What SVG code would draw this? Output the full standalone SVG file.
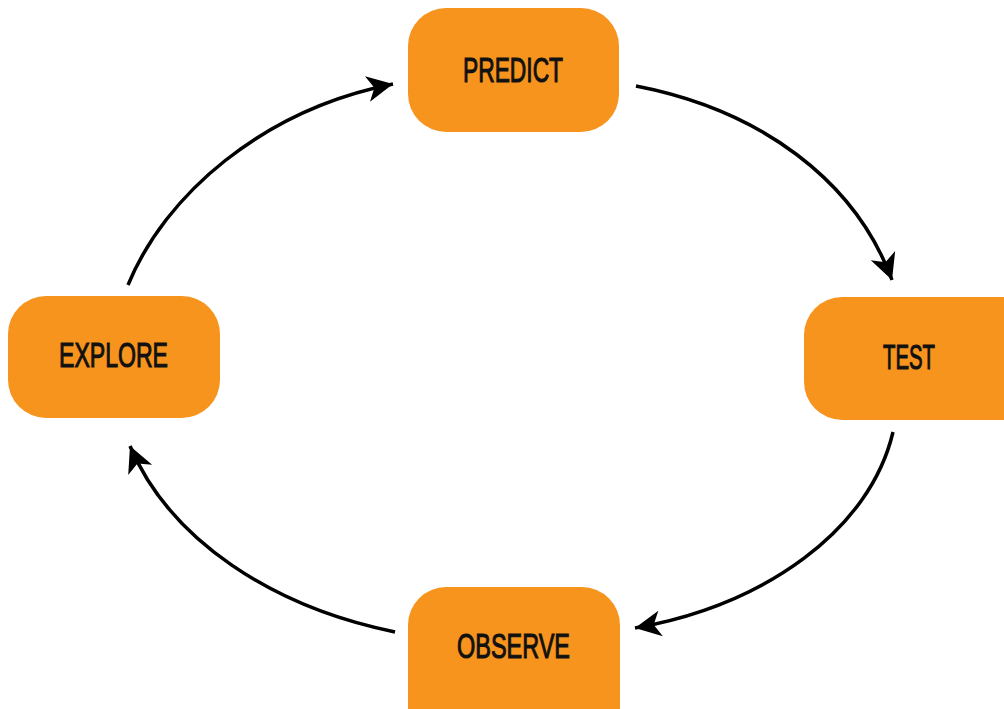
<svg xmlns="http://www.w3.org/2000/svg" width="1004" height="709" viewBox="0 0 1004 709">
  <style>
    .box { fill: #F7941E; }
    .label { font-family: "Liberation Sans", Arial, sans-serif; font-size: 35px; fill: #111; stroke: #111; stroke-width: 1.1px; text-anchor: start; }
    .conn { fill: none; stroke: #000; stroke-width: 3.5; marker-end: url(#head); }
  </style>
  <defs>
    <marker id="head" markerUnits="userSpaceOnUse" viewBox="-28 -15 30 30" refX="0" refY="0" markerWidth="30" markerHeight="30" orient="auto">
      <path d="M0,0 L-26,-13 L-19,0 L-26,13 Z" fill="#000"/>
    </marker>
  </defs>

  <rect width="1004" height="709" fill="#fff"/>

  <g id="connectors">
    <path class="conn" d="M128,285 C165,195 262,110 393,84"/>
    <path class="conn" d="M636,86 C760,110 855,180 892,280"/>
    <path class="conn" d="M893,432 C870,530 765,605 635,628"/>
    <path class="conn" d="M395,632 C272,607 170,540 130,446"/>
  </g>

  <g id="predict">
    <rect class="box" x="408" y="8" width="211" height="124" rx="38"/>
    <text class="label" x="463" y="82" textLength="100" lengthAdjust="spacingAndGlyphs">PREDICT</text>
  </g>

  <g id="test">
    <rect class="box" x="804" y="297" width="240" height="123" rx="38"/>
    <text class="label" x="883" y="369" textLength="52" lengthAdjust="spacingAndGlyphs">TEST</text>
  </g>

  <g id="observe">
    <rect class="box" x="408" y="587" width="212" height="160" rx="38"/>
    <text class="label" x="457" y="658" textLength="113" lengthAdjust="spacingAndGlyphs">OBSERVE</text>
  </g>

  <g id="explore">
    <rect class="box" x="8" y="296" width="212" height="122" rx="38"/>
    <text class="label" x="59" y="367" textLength="109" lengthAdjust="spacingAndGlyphs">EXPLORE</text>
  </g>
</svg>
